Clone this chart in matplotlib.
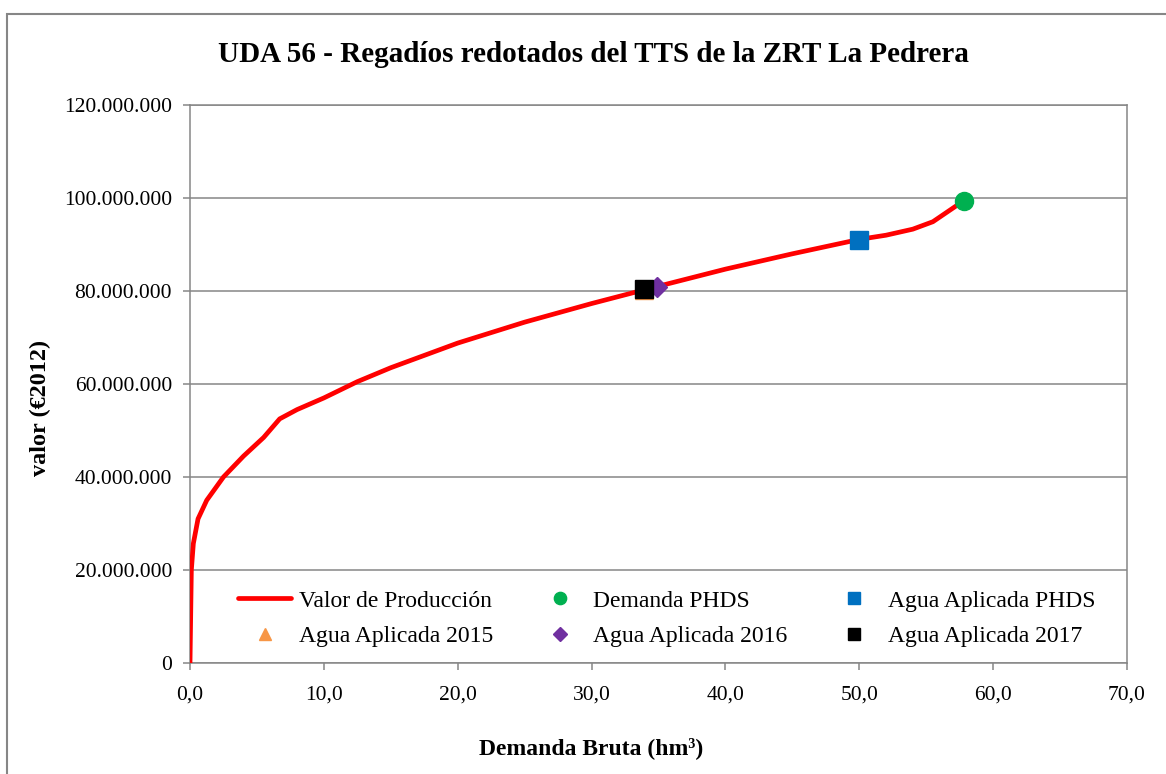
import matplotlib.pyplot as plt
from matplotlib.patches import Rectangle
from matplotlib.ticker import FuncFormatter, MultipleLocator

plt.rcParams['font.family'] = ['Liberation Serif', 'DejaVu Serif']

# curva valor de produccion (hm3, euros)
demanda = [0, 0.1, 0.25, 0.6, 1.25, 2.5, 4, 5.5, 6.7, 8, 10, 12.5, 15, 20, 25,
           30, 34, 40, 45, 50, 52, 54, 55.5, 57.8]
valor = [0, 20.0e6, 25.7e6, 31.0e6, 35.0e6, 40.0e6, 44.5e6, 48.5e6, 52.5e6,
         54.5e6, 57.0e6, 60.5e6, 63.5e6, 68.8e6, 73.3e6, 77.3e6, 80.3e6,
         84.7e6, 88.0e6, 91.1e6, 92.0e6, 93.3e6, 94.9e6, 99.4e6]

# puntos singulares
demanda_phds = (57.85, 99.4e6)
agua_phds = (50.0, 90.9e6)
agua_2015 = (33.9, 80.2e6)
agua_2016 = (34.9, 80.9e6)
agua_2017 = (33.9, 80.4e6)

fig = plt.figure(figsize=(11.66, 7.74), dpi=100)
ax = fig.add_axes([190 / 1166, 1 - 663 / 774, 937 / 1166, 558 / 774])

grey = '#868686'
h_valor, = ax.plot(demanda, valor, color='#ff0000', lw=3.4, label='Valor de Producción',
                   solid_capstyle='round', zorder=3)
h_dem, = ax.plot(*demanda_phds, 'o', color='#00b050', ms=13, label='Demanda PHDS', zorder=4)
h_phds, = ax.plot(*agua_phds, 's', color='#0070c0', ms=13, label='Agua Aplicada PHDS', zorder=4)
h_15, = ax.plot(*agua_2015, '^', color='#f79646', ms=13, label='Agua Aplicada 2015', zorder=4)
h_16, = ax.plot(*agua_2016, 'D', color='#7030a0', ms=10, label='Agua Aplicada 2016', zorder=4)
h_17, = ax.plot(*agua_2017, 's', color='#000000', ms=13, label='Agua Aplicada 2017', zorder=5)

ax.set_xlim(0, 70)
ax.set_ylim(0, 120e6)
ax.xaxis.set_major_locator(MultipleLocator(10))
ax.yaxis.set_major_locator(MultipleLocator(20e6))
ax.xaxis.set_major_formatter(FuncFormatter(lambda v, p: f'{v:.1f}'.replace('.', ',')))
ax.yaxis.set_major_formatter(FuncFormatter(lambda v, p: f'{int(v):,}'.replace(',', '.')))
ax.grid(axis='y', color=grey, lw=1.1)
ax.set_axisbelow(True)
for s in ax.spines.values():
    s.set_color(grey)
    s.set_linewidth(1.1)
ax.tick_params(colors=grey, labelcolor='black', labelsize=15.5, length=5, width=1.1,
               direction='out')
ax.tick_params(axis='x', pad=11)
ax.tick_params(axis='y', pad=8)

# orden por filas (matplotlib rellena por columnas)
handles = [h_valor, h_15, h_dem, h_16, h_phds, h_17]
ax.legend(handles=handles, ncol=3, loc='upper left', bbox_to_anchor=(0.039, 0.152),
          frameon=False, fontsize=17, handlelength=2.25, handletextpad=0.3,
          columnspacing=1.7, markerscale=0.68, borderpad=0, labelspacing=0.6)

fig.text(0.509, 1 - 55 / 774, 'UDA 56 - Regadíos redotados del TTS de la ZRT La Pedrera',
         ha='center', va='center', fontsize=21, fontweight='bold')
fig.text(0.507, 1 - 748 / 774, 'Demanda Bruta (hm³)', ha='center', va='center',
         fontsize=17, fontweight='bold')
fig.text(40 / 1166, 1 - 408 / 774, 'valor (€2012)', ha='center', va='center',
         rotation=90, fontsize=17.5, fontweight='bold')

fig.patches.append(Rectangle((7 / 1166, -0.1), 1.2, 1 - 14 / 774 + 0.1,
                             transform=fig.transFigure, fill=False, ec=grey, lw=1.5))

fig.savefig('out.png', dpi=100)
